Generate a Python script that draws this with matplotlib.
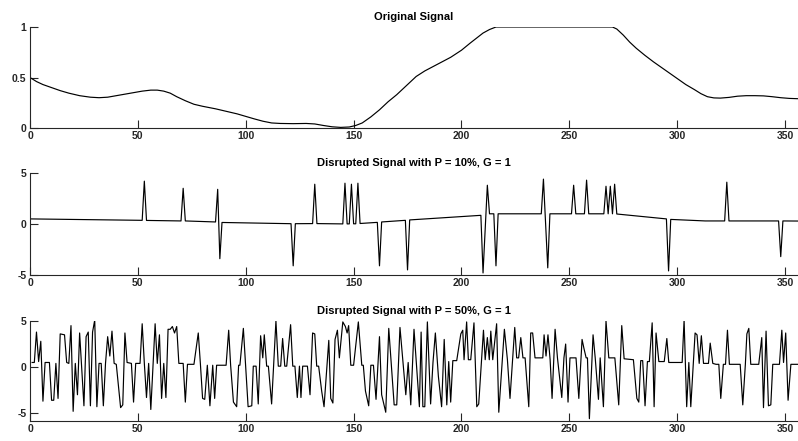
import matplotlib
matplotlib.use("Agg")
import matplotlib.pyplot as plt

# original smooth signal
orig_x = [0, 3, 6, 10, 14, 18, 23, 28, 32, 36, 40, 44, 48, 52, 56, 59, 62, 65, 68, 72,
          76, 80, 86, 91, 96, 100, 104, 108, 112, 116, 122, 128, 132, 136, 140, 144, 148,
          151, 154, 158, 162, 166, 170, 175, 179, 183, 187, 191, 195, 200, 204, 207, 210,
          213, 216, 270, 272, 275, 278, 281, 285, 289, 294, 300, 304, 308, 311, 314, 317,
          320, 324, 328, 332, 336, 340, 344, 348, 352, 356]
orig_y = [0.50, 0.46, 0.43, 0.40, 0.37, 0.345, 0.32, 0.305, 0.30, 0.305, 0.32, 0.335,
          0.35, 0.365, 0.375, 0.375, 0.365, 0.345, 0.31, 0.27, 0.235, 0.215, 0.19, 0.165,
          0.14, 0.115, 0.09, 0.067, 0.05, 0.045, 0.043, 0.045, 0.04, 0.025, 0.012, 0.006,
          0.01, 0.025, 0.05, 0.11, 0.18, 0.26, 0.33, 0.43, 0.51, 0.565, 0.61, 0.655, 0.70,
          0.77, 0.84, 0.89, 0.94, 0.975, 1.0, 1.0, 0.98, 0.92, 0.85, 0.79, 0.72, 0.655,
          0.58, 0.49, 0.43, 0.38, 0.34, 0.31, 0.298, 0.296, 0.303, 0.315, 0.32, 0.32,
          0.318, 0.31, 0.30, 0.293, 0.29]

# disrupted signal, P = 10%
p10_x = [0, 52, 53, 54, 70, 71, 72, 86, 87, 88, 89, 121, 122, 123, 131, 132, 133, 145,
         146, 147, 148, 149, 150, 151, 152, 153, 161, 162, 163, 174, 175, 176, 209, 210,
         212, 213, 215, 216, 217, 237, 238, 240, 241, 251, 252, 253, 257, 258, 259, 266,
         267, 268, 269, 270, 271, 272, 295, 296, 297, 313, 322, 323, 324, 347, 348, 349, 356]
p10_y = [0.50, 0.36, 4.2, 0.35, 0.30, 3.5, 0.30, 0.20, 3.4, -3.4, 0.15, 0.03, -4.1, 0.03,
         0.04, 3.9, 0.04, 0.01, 4.0, 0.01, 0.01, 3.9, 0.02, 0.02, 4.0, 0.05, 0.16, -4.1,
         0.20, 0.36, -4.5, 0.40, 0.85, -4.8, 3.8, 1.0, 1.0, -4.1, 1.0, 1.0, 4.4, -4.3, 1.0,
         1.0, 3.8, 1.0, 1.0, 4.3, 1.0, 1.0, 3.7, 1.0, 3.7, 1.0, 3.9, 0.98, 0.5, -4.6, 0.45,
         0.30, 0.30, 4.1, 0.30, 0.30, -3.2, 0.30, 0.29]

# disrupted signal, P = 50%
p50_x = [1, 2, 3, 4, 5, 6, 7, 9, 10, 11, 12, 13, 14, 16, 17, 18, 19, 20, 21, 22, 23, 25,
         26, 27, 28, 29, 30, 31, 32, 33, 34, 35, 36, 37, 38, 39, 40, 42, 43, 44, 45, 47,
         48, 49, 51, 52, 53, 54, 55, 56, 58, 59, 60, 61, 62, 63, 64, 65, 66, 67, 68, 69,
         71, 72, 73, 76, 78, 79, 80, 81, 82.2, 83.4, 84.7, 85.6, 86.5, 90.9, 92.1, 93.0,
         94.3, 95.8, 96.7, 97.3, 98.9, 101.1, 102.8, 103.5, 104.8, 105.8, 106.9, 107.9,
         108.6, 109.7, 110.5, 112.0, 114.0, 115.1, 116.2, 117.1, 118.1, 119.0, 120.8,
         121.8, 122.8, 123.9, 124.9, 125.6, 126.4, 128.6, 129.8, 131.0, 132.0, 132.9,
         133.8, 135.2, 136.3, 138.5, 139.4, 140.4, 141.4, 142.5, 143.4, 145.0, 146.2,
         147.0, 147.7, 148.7, 150.0, 152.2, 153.8, 154.5, 155.5, 157.0, 158.0, 159.2,
         160.4, 162.0, 163.0, 164.9, 166.3, 168.8, 170.0, 171.5, 174.2, 175.3, 176.5,
         178.0, 180.5, 181.3, 182.1, 183.0, 184.2, 185.7, 186.8, 187.9, 189.3, 190.8,
         192.0, 193.2, 194.1, 195.0, 196.0, 197.8, 199.7, 200.6, 201.2, 202.4, 203.2,
         204.3, 205.8, 207.1, 208.0, 210.2, 211.0, 212.0, 212.9, 213.6, 214.5, 216.3,
         217.3, 219.9, 221.3, 222.5, 224.7, 225.6, 226.5, 227.5, 228.5, 229.5, 231.2,
         232.1, 233.0, 234.1, 237.7, 238.3, 239.2, 240.1, 241.1, 242.0, 243.4, 244.5,
         246.5, 247.5, 248.3, 249.4, 250.3, 253.1, 254.4, 255.9, 256.8, 257.8, 258.4,
         259.3, 261.0, 262.0, 263.5, 264.3, 265.8, 267.0, 268.3, 271.1, 272.9, 274.3,
         275.4, 279.7, 281.3, 282.2, 283.1, 284.0, 285.1, 286.2, 287.1, 288.4, 289.3,
         290.2, 291.5, 294.0, 295.2, 296.1, 302.3, 303.2, 304.4, 305.4, 306.3, 308.3,
         309.2, 310.2, 311.2, 312.2, 314.5, 315.3, 316.5, 318.0, 319.3, 320.2, 321.4,
         322.4, 323.3, 324.2, 329.2, 330.4, 331.6, 332.3, 333.2, 334.1, 337.8, 339.2,
         340.0, 341.2, 342.3, 343.4, 344.3, 347.4, 348.5, 349.3, 350.3, 351.4, 352.7, 356.0]
p50_y = [0.5, 0.5, 3.8, 0.6, 2.8, -3.7, 0.5, 0.5, -3.6, -3.6, 0.4, -3.4, 3.6, 3.5, 0.5,
         0.4, 4.5, -4.8, 0.4, -3.0, 3.7, -4.2, 3.3, 3.8, -4.2, 3.8, 5.1, -4.3, 0.4, 0.4,
         -4.2, 0.4, 3.3, 1.2, 3.9, 0.4, 0.3, -4.4, -4.1, 3.7, 0.5, 0.4, -3.8, 0.4, 0.4,
         4.7, 0.4, -3.3, 0.4, -4.6, 4.7, 0.4, 3.5, -3.4, 0.4, -3.3, 4.1, 4.1, 4.4, 3.7,
         4.4, 0.4, 0.4, -3.8, 0.3, 0.3, 3.7, 0.3, -3.4, -3.5, 0.2, -4.2, 0.2, -3.4, 0.2,
         0.2, 4.0, 0.2, -3.8, -4.3, 0.2, 0.2, 4.2, -4.3, -4.2, 0.1, 0.1, -4.0, 3.4, 1.0,
         3.5, 0.1, 0.1, -4.0, 5.0, 0.1, 0.1, 3.1, 0.1, 0.1, 4.6, 0.1, 0.1, -3.3, 0.1,
         -3.3, 0.1, 0.1, -3.0, 3.7, 3.6, 0.1, 0.1, -2.6, -4.3, 2.9, -3.4, -3.9, 3.0, 4.0,
         1.0, 4.9, 4.4, 3.7, 4.5, 0.2, 0.2, 4.9, 0.2, 0.2, -2.6, -4.2, 0.2, 0.2, -3.5,
         3.3, -3.0, -4.9, 4.2, -4.1, -4.1, 4.3, -3.0, 0.5, -4.1, 4.1, -4.3, 3.8, -4.3,
         -4.3, 4.9, -4.0, 0.5, 3.7, -1.0, -4.3, 3.0, -4.1, 0.6, -3.8, 0.7, 0.7, 3.6, 4.0,
         0.8, 4.9, 0.8, 0.8, 4.8, -4.3, -4.0, 4.0, 0.8, 3.2, 0.8, 3.9, 0.8, 4.7, -4.9,
         4.1, 0.8, -3.4, 4.3, 1.0, 1.0, 3.2, 1.0, 1.0, -4.3, 3.7, 3.7, 1.0, 1.0, 3.5,
         1.2, 3.5, 0.8, -3.4, 4.1, 1.0, -3.3, 1.0, 2.5, -3.8, 1.0, 1.0, -3.4, 3.0, 2.0,
         1.0, 1.0, -5.6, 3.5, 1.0, -3.5, 1.0, -4.3, 5.0, 1.0, 1.0, -4.1, 4.5, 0.9, 0.8,
         -3.4, -3.8, 0.7, 0.7, -4.2, 0.6, 0.6, 4.8, -4.3, 3.7, 0.6, 0.6, 3.1, 0.5, 0.5,
         5.1, -4.3, 0.5, -4.3, 3.7, 3.5, 0.4, 3.4, 0.4, 0.4, 2.6, 0.4, 0.3, 0.3, -3.4,
         0.3, 0.3, 4.0, 0.3, 0.3, -4.1, 0.3, 3.6, 4.2, 0.3, 0.3, 3.2, -4.4, 3.9, -4.2,
         -4.1, 0.3, 0.3, 4.0, 0.5, 3.7, -3.6, 0.3, 0.3]

titles = ["Original Signal", "Disrupted Signal with P = 10%, G = 1",
          "Disrupted Signal with P = 50%, G = 1"]

plt.rcParams["font.family"] = "Liberation Sans"
plt.rcParams["font.weight"] = "bold"
axis_color = "#262626"

fig = plt.figure(figsize=(7.98, 4.41), dpi=100)
w = 768 / 798
boxes = [[30 / 798, 1 - 128 / 441, w, 101 / 441],
         [30 / 798, 1 - 275 / 441, w, 102 / 441],
         [30 / 798, 1 - 421 / 441, w, 100 / 441]]
series = [(orig_x, orig_y), (p10_x, p10_y), (p50_x, p50_y)]
ylims = [(0, 1), (-5, 5), (-5.85, 5)]
yticks = [[0, 0.5, 1], [-5, 0, 5], [-5, 0, 5]]
ytlabels = [["0", "0.5", "1"], ["-5", "0", "5"], ["-5", "0", "5"]]

for box, (xs, ys), yl, yt, ytl, title in zip(boxes, series, ylims, yticks, ytlabels, titles):
    ax = fig.add_axes(box)
    ax.plot(xs, ys, color="black", linewidth=0.85)
    ax.set_xlim(0, 356)
    ax.set_ylim(*yl)
    ax.set_xticks(range(0, 351, 50))
    ax.set_yticks(yt)
    ax.set_yticklabels(ytl)
    ax.spines["top"].set_visible(False)
    ax.spines["right"].set_visible(False)
    for s in ("left", "bottom"):
        ax.spines[s].set_color(axis_color)
        ax.spines[s].set_linewidth(0.8)
    ax.tick_params(direction="in", length=5.5, width=0.8, color=axis_color,
                   labelsize=7.5, labelcolor=axis_color, pad=2.5)
    ax.set_title(title, fontsize=8, fontweight="bold", pad=5)

fig.savefig("out.png", dpi=100)
